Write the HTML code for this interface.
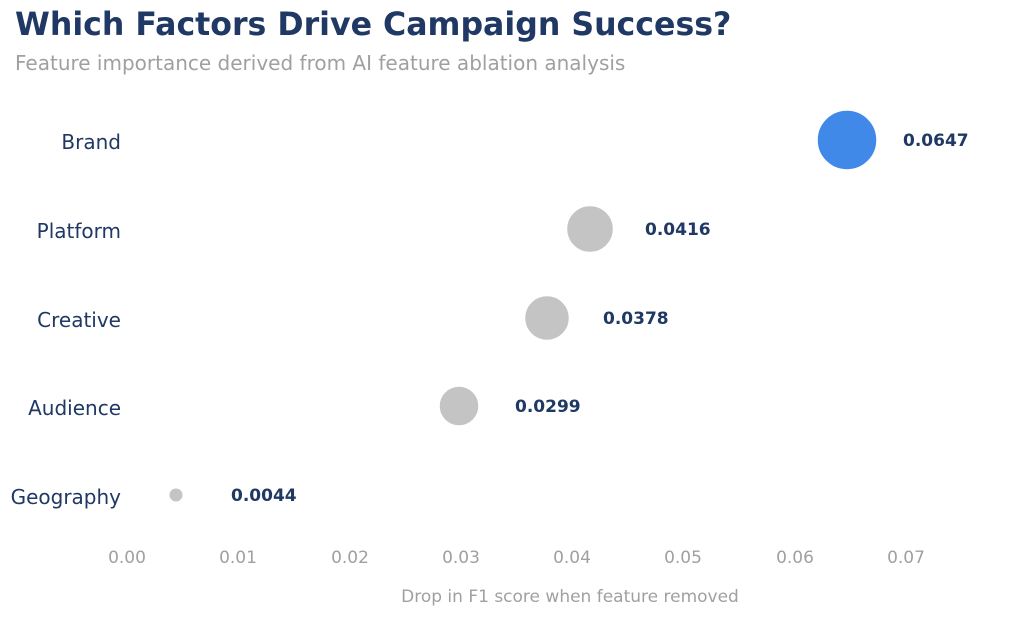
<!DOCTYPE html>
<html><head><meta charset="utf-8"><style>
body{margin:0;background:#fff;}
svg text{font-family:"DejaVu Sans","Liberation Sans",sans-serif;}
</style></head><body>
<svg width="1024" height="615" xmlns="http://www.w3.org/2000/svg">
<text x="15" y="35" font-size="31.6" font-weight="bold" fill="#1f3864">Which Factors Drive Campaign Success?</text>
<text x="15" y="70" font-size="20" fill="#a0a0a0">Feature importance derived from AI feature ablation analysis</text>
<g font-size="20" fill="#1f3864" text-anchor="end">
<text x="121" y="149">Brand</text>
<text x="121" y="238">Platform</text>
<text x="121" y="327">Creative</text>
<text x="121" y="415">Audience</text>
<text x="121" y="504">Geography</text>
</g>
<circle cx="847" cy="140" r="30" fill="#4189e8" stroke="#fff" stroke-width="1.5"/>
<circle cx="590" cy="229" r="23.5" fill="#c4c4c4" stroke="#fff" stroke-width="1.5"/>
<circle cx="547" cy="318" r="22.5" fill="#c4c4c4" stroke="#fff" stroke-width="1.5"/>
<circle cx="459" cy="406" r="20" fill="#c4c4c4" stroke="#fff" stroke-width="1.5"/>
<circle cx="176" cy="495" r="7" fill="#c4c4c4" stroke="#fff" stroke-width="1"/>
<g font-size="17" font-weight="bold" fill="#1f3864">
<text x="903" y="146">0.0647</text>
<text x="645" y="235">0.0416</text>
<text x="603" y="324">0.0378</text>
<text x="515" y="412">0.0299</text>
<text x="231" y="501">0.0044</text>
</g>
<g font-size="17" fill="#a0a0a0" text-anchor="middle">
<text x="127" y="563">0.00</text>
<text x="238" y="563">0.01</text>
<text x="350" y="563">0.02</text>
<text x="461" y="563">0.03</text>
<text x="572" y="563">0.04</text>
<text x="683" y="563">0.05</text>
<text x="795" y="563">0.06</text>
<text x="906" y="563">0.07</text>
<text x="570" y="602">Drop in F1 score when feature removed</text>
</g>
</svg>
</body></html>
